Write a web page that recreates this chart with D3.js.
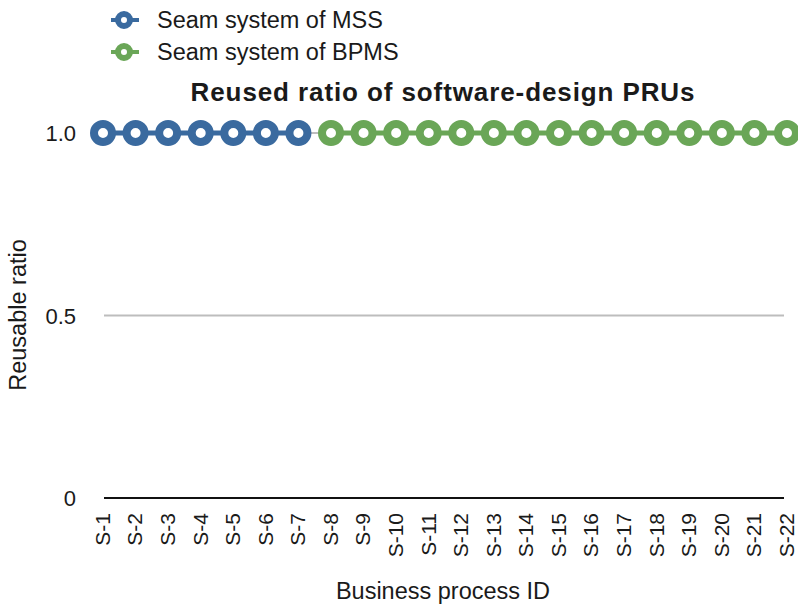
<!DOCTYPE html>
<html><head><meta charset="utf-8">
<script src="https://cdn.jsdelivr.net/npm/d3@7"></script>
<style>body{margin:0;background:#fff}svg{display:block}text{font-family:"Liberation Sans",Arial,Helvetica,sans-serif;fill:#1a1a1a}</style>
</head><body><svg id="c" width="798" height="607"></svg>
<script>
const categories = ["S-1","S-2","S-3","S-4","S-5","S-6","S-7","S-8","S-9","S-10","S-11","S-12","S-13","S-14","S-15","S-16","S-17","S-18","S-19","S-20","S-21","S-22"];
const mssIds = ["S-1","S-2","S-3","S-4","S-5","S-6","S-7"];
const mssValues = [1,1,1,1,1,1,1];
const bpmsIds = ["S-8","S-9","S-10","S-11","S-12","S-13","S-14","S-15","S-16","S-17","S-18","S-19","S-20","S-21","S-22"];
const bpmsValues = [1,1,1,1,1,1,1,1,1,1,1,1,1,1,1];
const yTicks = [0, 0.5, 1.0];
const yTickLabels = ["0", "0.5", "1.0"];
const seriesNames = ["Seam system of MSS", "Seam system of BPMS"];
const colors = ["#3a6a9f", "#6aa657"];

const svg = d3.select("#c");
const x = d3.scalePoint().domain(categories).range([103, 787]);
const y = d3.scaleLinear().domain([0, 1]).range([498, 133]);

// gridlines
svg.append("g").selectAll("line").data(yTicks.filter(d => d > 0)).join("line")
  .attr("x1", 104).attr("x2", 784).attr("y1", d => y(d)).attr("y2", d => y(d))
  .attr("stroke", "#bdbdbd").attr("stroke-width", 2);
// baseline
svg.append("line").attr("x1", 104).attr("x2", 784).attr("y1", y(0)).attr("y2", y(0))
  .attr("stroke", "#111").attr("stroke-width", 2);

// y axis
const yAxis = d3.axisLeft(y).tickValues(yTicks).tickFormat((d, i) => yTickLabels[i]).tickSize(0).tickPadding(0);
const gy = svg.append("g").attr("transform", "translate(76,0)").call(yAxis);
gy.select(".domain").remove();
gy.selectAll("text").style("font-size", "22px").style("font-family", "'Liberation Sans',Arial,sans-serif").attr("fill", "#1a1a1a").attr("dy", "0.35em");

// x axis
const xAxis = d3.axisBottom(x).tickSize(0).tickPadding(0);
const gx = svg.append("g").attr("transform", "translate(0,513)").call(xAxis);
gx.select(".domain").remove();
gx.selectAll("text").style("font-size", "21px").style("font-family", "'Liberation Sans',Arial,sans-serif").attr("fill", "#1a1a1a")
  .attr("text-anchor", "end").attr("transform", "rotate(-90)").attr("x", 0).attr("y", 0).attr("dx", 0).attr("dy", "0.3em");

// series
const series = [
  {name: seriesNames[0], ids: mssIds, vals: mssValues, color: colors[0]},
  {name: seriesNames[1], ids: bpmsIds, vals: bpmsValues, color: colors[1]}
];
const line = d3.line().x(d => x(d[0])).y(d => y(d[1]));
series.forEach(s => {
  const pts = s.ids.map((id, i) => [id, s.vals[i]]);
  svg.append("path").attr("d", line(pts)).attr("fill", "none").attr("stroke", s.color).attr("stroke-width", 5);
});
series.forEach(s => {
  const pts = s.ids.map((id, i) => [id, s.vals[i]]);
  svg.append("g").selectAll("circle").data(pts).join("circle")
    .attr("cx", d => x(d[0])).attr("cy", d => y(d[1])).attr("r", 9)
    .attr("fill", "#fff").attr("stroke", s.color).attr("stroke-width", 8);
});

// legend
series.forEach((s, i) => {
  const ly = 20 + i * 32;
  svg.append("line").attr("x1", 111).attr("x2", 139).attr("y1", ly).attr("y2", ly).attr("stroke", s.color).attr("stroke-width", 4);
  svg.append("circle").attr("cx", 124).attr("cy", ly).attr("r", 6).attr("fill", "#fff").attr("stroke", s.color).attr("stroke-width", 6);
  svg.append("text").attr("x", 157).attr("y", ly).attr("dy", "0.35em").style("font-size", "23.5px").text(s.name);
});

// title
svg.append("text").attr("x", 443).attr("y", 92).attr("dy", "0.35em").attr("text-anchor", "middle")
  .style("font-size", "26px").style("font-weight", "bold").style("letter-spacing", "0.9px").text("Reused ratio of software-design PRUs");

// axis titles
svg.append("text").attr("x", 443).attr("y", 591).attr("dy", "0.35em").attr("text-anchor", "middle")
  .style("font-size", "23.5px").text("Business process ID");
svg.append("text").attr("transform", "translate(18,315) rotate(-90)").attr("dy", "0.35em").attr("text-anchor", "middle")
  .style("font-size", "23.5px").text("Reusable ratio");
</script></body></html>
